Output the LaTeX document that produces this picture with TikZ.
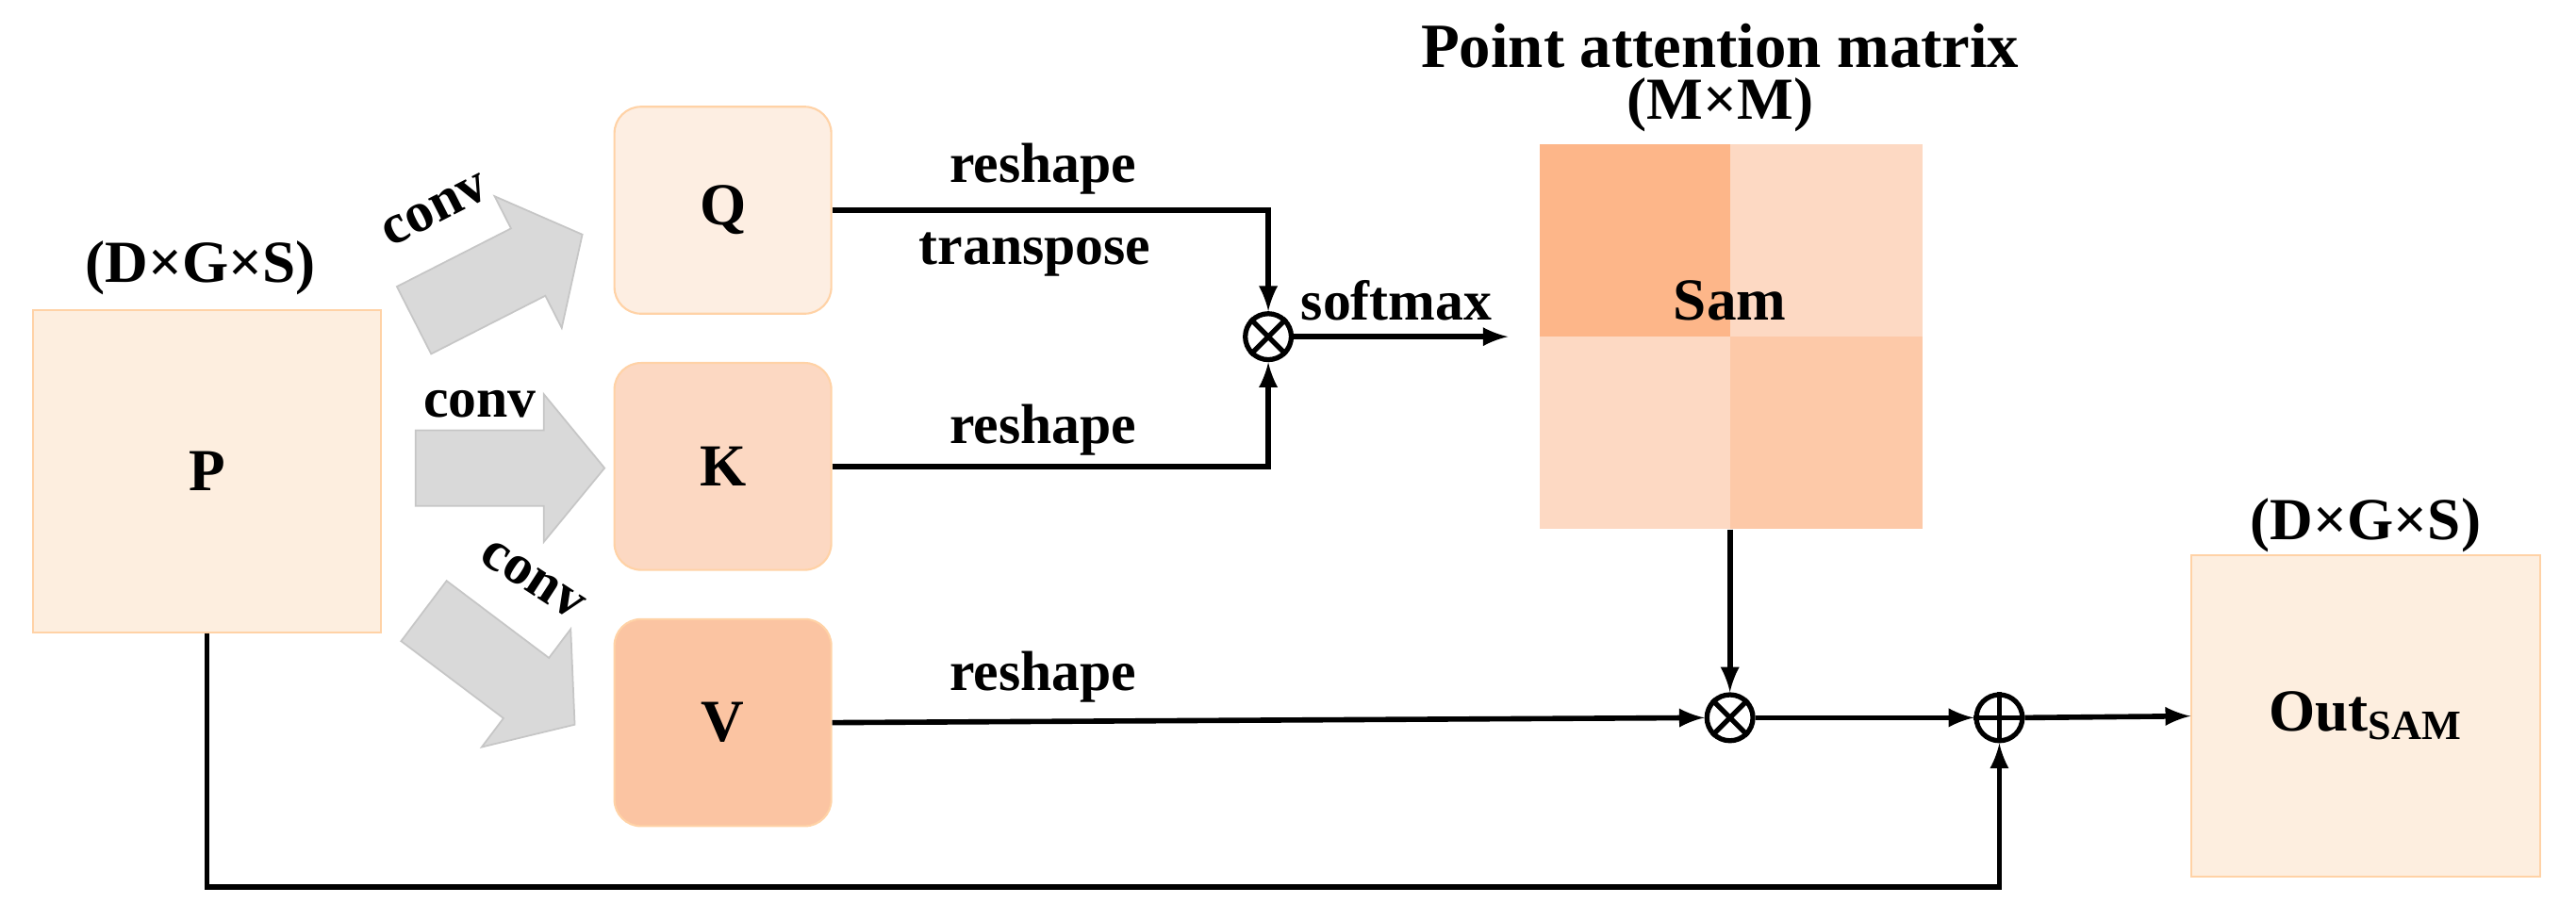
\documentclass[tikz,border=0pt]{standalone}
\usepackage{fontspec}
\setmainfont{Liberation Serif}
\begin{document}
\begin{tikzpicture}[x=0.01742cm,y=-0.01742cm,
  box/.style={draw=orange!35,line width=0.6pt,rounded corners=8pt,minimum width=132*0.01742cm,minimum height=126*0.01742cm,font=\bfseries\fontsize{18}{18}\selectfont},
  sq/.style={draw=orange!35,line width=0.6pt,minimum width=212*0.01742cm,minimum height=196*0.01742cm,font=\bfseries\fontsize{18}{18}\selectfont},
  lab/.style={font=\bfseries\fontsize{17}{17}\selectfont},
  big/.style={font=\bfseries\fontsize{18}{18}\selectfont},
  ln/.style={line width=1.6pt,-latex},
  op/.style={circle,draw,line width=1.5pt,minimum size=28*0.01742cm,inner sep=0pt},
  blk/.style={fill=gray!30,draw=gray!45,line width=0.5pt}]
\useasboundingbox (0,0) rectangle (1568,560);
\definecolor{cP}{HTML}{FDEEDF}\definecolor{cQ}{HTML}{FDEEE2}
\definecolor{cK}{HTML}{FCD8C2}\definecolor{cV}{HTML}{FBC4A2}
\definecolor{mA}{HTML}{FDB689}\definecolor{mB}{HTML}{FDD9C3}\definecolor{mC}{HTML}{FDC9A8}
\node[sq,fill=cP] (P) at (126,287) {P};
\node[big] at (122,163) {(D×G×S)};
\node[box,fill=cQ] (Q) at (440,128) {Q};
\node[box,fill=cK] (K) at (440,284) {K};
\node[box,fill=cV] (V) at (440,440) {V};
% block arrows
\newcommand{\blkarrow}{\filldraw[blk] (0,-23) -- (78,-23) -- (78,-45) -- (115,0) -- (78,45) -- (78,23) -- (0,23) -- cycle;}
\begin{scope}[shift={(252,195)},rotate=27]\blkarrow\end{scope}
\begin{scope}[shift={(253,285)}]\blkarrow\end{scope}
\begin{scope}[shift={(258,372)},rotate=-37]\blkarrow\end{scope}
\node[lab,rotate=27] at (265,128) {conv};
\node[lab] at (292,246) {conv};
\node[lab,rotate=-33] at (324,353) {conv};
% matrix
\fill[mA] (937,88) rectangle (1053,205);
\fill[mB] (1053,88) rectangle (1170,205);
\fill[mB] (937,205) rectangle (1053,322);
\fill[mC] (1053,205) rectangle (1170,322);
\node (M) at (1053,205) [minimum width=233*0.01742cm,minimum height=234*0.01742cm] {};
\node[big] at (1053,183) {Sam};
\node[font=\bfseries\fontsize{19}{19}\selectfont] at (1047,28) {Point attention matrix};
\node[big] at (1047,64) {(M×M)};
% ops
\node[op] (o1) at (772,205) {};
\draw[line width=1.5pt] (o1.north west)--(o1.south east) (o1.north east)--(o1.south west);
\node[op] (o2) at (1053,437) {};
\draw[line width=1.5pt] (o2.north west)--(o2.south east) (o2.north east)--(o2.south west);
\node[op] (o3) at (1217,437) {};
\draw[line width=1.5pt] (o3.north)--(o3.south) (o3.east)--(o3.west);
\node[sq,fill=cP] (O) at (1440,436) {Out\textsubscript{SAM}};
\node[big] at (1440,320) {(D×G×S)};
% connectors
\draw[ln] (Q.east) -| (o1.north);
\draw[ln] (K.east) -| (o1.south);
\node[lab] at (635,103) {reshape};
\node[lab] at (630,155) {transpose};
\node[lab] at (635,262) {reshape};
\draw[ln] (o1.east) -- (918,205);
\node[lab] at (850,183) {softmax};
\draw[ln] (M.south) -- (o2.north);
\draw[ln] (V.east) -- (o2.west);
\node[lab] at (635,412) {reshape};
\draw[ln] (o2.east) -- (o3.west);
\draw[ln] (o3.east) -- (O.west);
\draw[ln] (P.south) -- (126,540) -| (o3.south);
\end{tikzpicture}
\end{document}
